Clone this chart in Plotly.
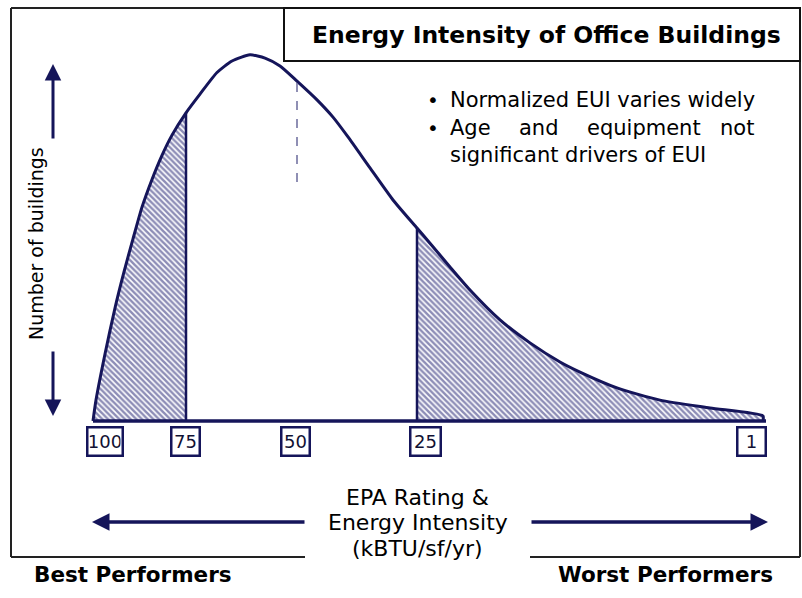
import plotly.graph_objects as go

# ---- data ----
# Energy intensity (arbitrary EUI units) vs number of buildings (relative)
eui = [0, 0.6, 2.4, 4.4, 6.2, 8.0, 9.8, 11.8, 13.8, 15.8, 18.6, 21.4, 24.8, 27.8,
       31.4, 34.4, 37.4, 40.8, 44.8, 48.0, 51.0, 55.4, 60.0, 64.8, 67.4, 71.4,
       75.4, 81.4, 87.4, 93.4, 97.4, 104.8, 113.4, 123.4, 134.0]
count = [0, 5.8, 18.6, 31.4, 41.4, 50.6, 59.4, 67.1, 73.8, 79.4, 85.6, 90.8, 96.8,
         100.0, 101.7, 100.8, 98.6, 94.4, 89.2, 84.4, 78.9, 70.3, 61.4, 53.6, 49.4,
         42.8, 36.4, 28.1, 21.7, 16.4, 13.6, 9.2, 5.8, 3.6, 1.4]

q75_eui, q75_count = 18.6, 85.6      # EPA rating 75 boundary
q25_eui, q25_count = 64.8, 53.6      # EPA rating 25 boundary
median_eui = 40.8
median_top, median_bottom = 93.9, 66.4
axis_end = 134.6

rating_labels = ["100", "75", "50", "25", "1"]
rating_pos = [2.4, 18.4, 40.4, 66.5, 131.6]
rating_box_w = [31, 24, 24, 26, 24]

bullets = ["Normalized EUI varies widely"]
bullet2_words = ["Age", "and", "equipment", "not"]
bullet3 = "significant drivers of EUI"
axis_title_lines = ["EPA Rating &", "Energy Intensity", "(kBTU/sf/yr)"]

NAVY = "#15155a"
FONT = "DejaVu Sans"

W, H = 802, 598
def px(x):
    return x / W
def py(y):
    return 1 - y / H

fig = go.Figure()

left_x = [e for e in eui if e <= q75_eui]
left_y = [c for e, c in zip(eui, count) if e <= q75_eui]
right_x = [e for e in eui if e >= q25_eui]
right_y = [c for e, c in zip(eui, count) if e >= q25_eui]

pattern = dict(shape="\\", fgcolor="#1c1c6e", bgcolor="white", size=4, solidity=0.62)
for xs, ys in [(left_x, left_y), (right_x, right_y)]:
    fig.add_trace(go.Scatter(x=xs, y=ys, fill="tozeroy", mode="none",
                             fillcolor="white", fillpattern=pattern,
                             line=dict(shape="spline", smoothing=0.6),
                             hoverinfo="skip"))

# baseline
fig.add_trace(go.Scatter(x=[0, axis_end], y=[0, 0], mode="lines",
                         line=dict(color=NAVY, width=3.5), hoverinfo="skip"))
# curve
fig.add_trace(go.Scatter(x=eui + [eui[-1]], y=count + [0], mode="lines",
                         line=dict(color=NAVY, width=3, shape="spline", smoothing=0.6),
                         hoverinfo="skip"))
# quartile lines
for qx, qy in [(q75_eui, q75_count), (q25_eui, q25_count)]:
    fig.add_trace(go.Scatter(x=[qx, qx], y=[0, qy], mode="lines",
                             line=dict(color=NAVY, width=2.5), hoverinfo="skip"))
# median dashed line
fig.add_trace(go.Scatter(x=[median_eui, median_eui], y=[median_bottom, median_top],
                         mode="lines", line=dict(color="#6b6b9c", width=1.5, dash="dash"),
                         hoverinfo="skip"))

annotations = []
# rating boxes
for lab, pos, bw in zip(rating_labels, rating_pos, rating_box_w):
    annotations.append(dict(x=pos, y=-5.8, xref="x", yref="y", text=lab,
                            showarrow=False, width=bw, height=24,
                            font=dict(family=FONT, size=18, color="#111133"),
                            bordercolor=NAVY, borderwidth=2.5, borderpad=1,
                            bgcolor="white", xanchor="center", yanchor="middle"))

# title
annotations.append(dict(x=px(546), y=py(35), xref="paper", yref="paper",
                        text="<b>Energy Intensity of Office Buildings</b>",
                        showarrow=False, font=dict(family=FONT, size=23.5, color="black"),
                        xanchor="center", yanchor="middle"))
# bullets
for by in (100, 128):
    annotations.append(dict(x=px(425), y=py(by), xref="paper", yref="paper",
                            text="•", showarrow=False,
                            font=dict(family=FONT, size=20, color="black"),
                            xanchor="left", yanchor="middle"))
annotations.append(dict(x=px(448), y=py(100), xref="paper", yref="paper",
                        text=bullets[0], showarrow=False,
                        font=dict(family=FONT, size=21, color="black"),
                        xanchor="left", yanchor="middle"))
word_x = [448, 517, 585, 718]
for wd, wx in zip(bullet2_words, word_x):
    annotations.append(dict(x=px(wx), y=py(128), xref="paper", yref="paper",
                            text=wd, showarrow=False,
                            font=dict(family=FONT, size=21, color="black"),
                            xanchor="left", yanchor="middle"))
annotations.append(dict(x=px(448), y=py(155), xref="paper", yref="paper",
                        text=bullet3, showarrow=False,
                        font=dict(family=FONT, size=21, color="black"),
                        xanchor="left", yanchor="middle"))
# y label
annotations.append(dict(x=px(36), y=py(244), xref="paper", yref="paper",
                        text="Number of buildings", textangle=-90, showarrow=False,
                        font=dict(family=FONT, size=19, color="black"),
                        xanchor="center", yanchor="middle"))
# vertical arrows
annotations.append(dict(x=px(53), y=py(64), xref="paper", yref="paper", text="",
                        showarrow=True, ax=0, ay=76, arrowhead=2, arrowsize=1.1,
                        arrowwidth=3, arrowcolor=NAVY))
annotations.append(dict(x=px(53), y=py(416), xref="paper", yref="paper", text="",
                        showarrow=True, ax=0, ay=-66, arrowhead=2, arrowsize=1.1,
                        arrowwidth=3, arrowcolor=NAVY))
# horizontal arrows
annotations.append(dict(x=px(92), y=py(522), xref="paper", yref="paper", text="",
                        showarrow=True, ax=214, ay=0, arrowhead=2, arrowsize=1,
                        arrowwidth=3.5, arrowcolor=NAVY))
annotations.append(dict(x=px(768), y=py(522), xref="paper", yref="paper", text="",
                        showarrow=True, ax=-238, ay=0, arrowhead=2, arrowsize=1,
                        arrowwidth=3.5, arrowcolor=NAVY))
# axis title (three lines)
for line_txt, ly in zip(axis_title_lines, (497, 522, 548)):
    annotations.append(dict(x=px(418), y=py(ly), xref="paper", yref="paper",
                            text=line_txt, showarrow=False,
                            font=dict(family=FONT, size=22, color="black"),
                            xanchor="center", yanchor="middle"))
# bottom labels
annotations.append(dict(x=px(133), y=py(574), xref="paper", yref="paper",
                        text="<b>Best Performers</b>", showarrow=False,
                        font=dict(family=FONT, size=21.5, color="black"),
                        xanchor="center", yanchor="middle"))
annotations.append(dict(x=px(665), y=py(574), xref="paper", yref="paper",
                        text="<b>Worst Performers</b>", showarrow=False,
                        font=dict(family=FONT, size=21.5, color="black"),
                        xanchor="center", yanchor="middle"))

FRAME = dict(color="#222222", width=2)
def seg(x0, y0, x1, y1, line):
    return dict(type="line", xref="paper", yref="paper", x0=px(x0), y0=py(y0),
                x1=px(x1), y1=py(y1), line=line, layer="below")

shapes = [
    seg(11, 8, 800, 8, FRAME),
    seg(11, 8, 11, 557, FRAME),
    seg(800, 8, 800, 557, FRAME),
    seg(11, 557, 305, 557, FRAME),
    seg(530, 557, 800, 557, FRAME),
    dict(type="rect", xref="paper", yref="paper", x0=px(284), x1=px(800), y0=py(61), y1=py(8),
         line=dict(color="#111111", width=2), layer="above"),
]

fig.update_layout(
    width=W, height=H, margin=dict(l=0, r=0, t=0, b=0),
    paper_bgcolor="white", plot_bgcolor="white", showlegend=False,
    xaxis=dict(visible=False, range=[-18.6, 141.8], fixedrange=True),
    yaxis=dict(visible=False, range=[-49.17, 116.94], fixedrange=True),
    annotations=annotations, shapes=shapes,
)

fig.write_html("out.html", config={"displayModeBar": False},
               post_script="document.body.style.margin='0';document.body.style.overflow='hidden';")
